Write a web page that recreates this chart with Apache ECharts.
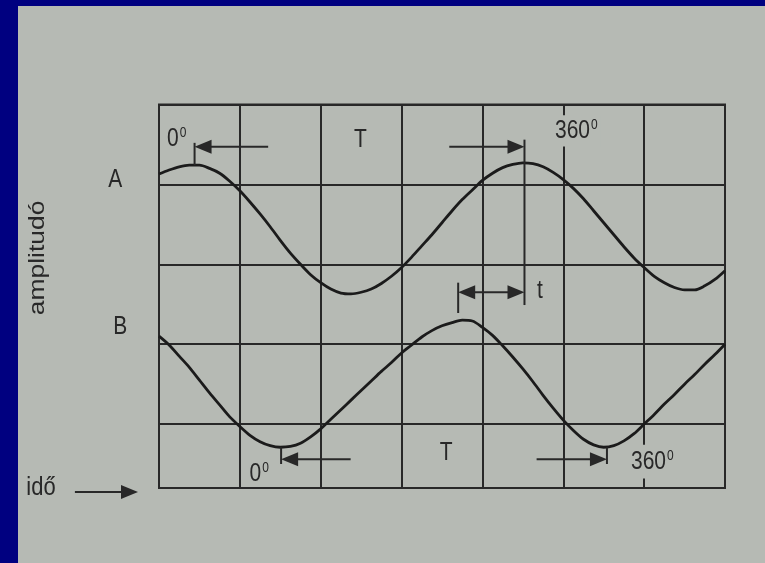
<!DOCTYPE html>
<html>
<head>
<meta charset="utf-8">
<script src="https://cdn.jsdelivr.net/npm/echarts@6/dist/echarts.min.js"></script>
<style>
  html, body { margin: 0; padding: 0; width: 765px; height: 563px; overflow: hidden; background: #000080; }
  #chart { position: absolute; left: 18px; top: 6px; width: 747px; height: 557px; }
</style>
</head>
<body>
<div id="chart"></div>
<script>
// Time positions (grid divisions), shared by both traces
const timeAxis = [
  0, 0.125, 0.25, 0.375, 0.5, 0.625, 0.75, 0.875,
  1, 1.125, 1.25, 1.375, 1.5, 1.625, 1.75, 1.875,
  2, 2.125, 2.25, 2.375, 2.5, 2.625, 2.75, 2.875,
  3, 3.125, 3.25, 3.375, 3.5, 3.625, 3.75, 3.875,
  4, 4.125, 4.25, 4.375, 4.5, 4.625, 4.75, 4.875,
  5, 5.125, 5.25, 5.375, 5.5, 5.625, 5.75, 5.875,
  6, 6.125, 6.25, 6.375, 6.5, 6.625, 6.75, 6.875,
  7
];
// Amplitudes in grid divisions, measured downward from the top edge of the screen
const ampA = [
  0.87, 0.82, 0.78, 0.76, 0.76, 0.80, 0.86, 0.96,
  1.08, 1.22, 1.37, 1.53, 1.70, 1.86, 2.00, 2.13,
  2.23, 2.31, 2.36, 2.37, 2.35, 2.31, 2.24, 2.15,
  2.04, 1.91, 1.77, 1.63, 1.48, 1.33, 1.19, 1.07,
  0.95, 0.86, 0.79, 0.75, 0.73, 0.74, 0.78, 0.85,
  0.94, 1.05, 1.18, 1.33, 1.48, 1.63, 1.78, 1.92,
  2.04, 2.15, 2.23, 2.29, 2.32, 2.32, 2.27, 2.19,
  2.08
];
const ampB = [
  2.90, 3.01, 3.15, 3.29, 3.45, 3.61, 3.76, 3.91,
  4.03, 4.14, 4.22, 4.27, 4.29, 4.28, 4.24, 4.16,
  4.06, 3.94, 3.82, 3.70, 3.58, 3.46, 3.34, 3.23,
  3.11, 3.01, 2.91, 2.83, 2.77, 2.73, 2.70, 2.71,
  2.79, 2.89, 3.02, 3.16, 3.31, 3.47, 3.64, 3.80,
  3.95, 4.08, 4.19, 4.26, 4.29, 4.27, 4.21, 4.12,
  4.00, 3.88, 3.75, 3.63, 3.50, 3.38, 3.25, 3.13,
  3.00
];

// Phase markers: peaks of A, peak and troughs of B
const peakA1 = [0.44, 0.76];
const peakA2 = [4.52, 0.73];
const peakB  = [3.70, 2.70];
const troughB1 = [1.51, 4.29];
const troughB2 = [5.54, 4.29];

const labelDeg0 = '0';
const labelDeg360 = '360';
const labelPeriod = 'T';
const labelShift = 't';
const labelA = 'A';
const labelB = 'B';
const yName = 'amplitudó';
const xName = 'idő';

const ink = '#282828';
const paper = '#b6bab4';
const fontFamily = '"Liberation Sans", Arial, Helvetica, sans-serif';

const zip = (xs, ys) => xs.map((x, i) => [x, ys[i]]);

const chart = echarts.init(document.getElementById('chart'), null, { renderer: 'canvas' });

chart.setOption({
  animation: false,
  backgroundColor: paper,
  grid: {
    left: 141, right: 40, top: 98.5, bottom: 75,
    show: true, borderColor: ink, borderWidth: 2, backgroundColor: 'transparent'
  },
  xAxis: {
    type: 'value', min: 0, max: 7, interval: 1,
    axisLabel: { show: false }, axisTick: { show: false }, axisLine: { show: false },
    splitLine: { show: true, lineStyle: { color: ink, width: 2 } }
  },
  yAxis: {
    type: 'value', inverse: true, min: 0, max: 4.8, interval: 1,
    axisLabel: { show: false }, axisTick: { show: false }, axisLine: { show: false },
    splitLine: { show: true, lineStyle: { color: ink, width: 2 } }
  },
  series: [
    { name: 'A', type: 'line', data: zip(timeAxis, ampA), smooth: 0.3, showSymbol: false,
      lineStyle: { color: '#1b1b1b', width: 2.8 }, z: 3 },
    { name: 'B', type: 'line', data: zip(timeAxis, ampB), smooth: 0.3, showSymbol: false,
      lineStyle: { color: '#1b1b1b', width: 2.8 }, z: 3 }
  ]
});

const px = (x, y) => chart.convertToPixel({ gridIndex: 0 }, [x, y]);
const g = [];

function seg(a, b, w) {
  const p = px(a[0], a[1]), q = px(b[0], b[1]);
  g.push({ type: 'line', z: 20, shape: { x1: p[0], y1: p[1], x2: q[0], y2: q[1] },
           style: { stroke: ink, lineWidth: w || 2 } });
}
function head(tip, dirX) {
  // filled triangular arrowhead pointing along dirX (+1 right, -1 left)
  const p = px(tip[0], tip[1]);
  const L = 17, W = 7;
  g.push({ type: 'polygon', z: 21,
           shape: { points: [[p[0], p[1]], [p[0] - dirX * L, p[1] - W], [p[0] - dirX * L, p[1] + W]] },
           style: { fill: ink } });
}
function arrow(tail, tip) {
  const dir = tip[0] > tail[0] ? 1 : -1;
  seg(tail, [tip[0] - dir * 0.12, tip[1]], 2);
  head(tip, dir);
}
function txt(pos, text, opts) {
  const p = px(pos[0], pos[1]);
  const o = opts || {};
  g.push({
    type: 'text', z: 30, x: p[0], y: p[1],
    scaleX: o.scaleX || 1, scaleY: o.scaleY || 1.2, rotation: o.rotation || 0,
    style: Object.assign({
      text: text, fill: ink, font: (o.size || 21) + 'px ' + fontFamily,
      align: o.align || 'center', verticalAlign: 'middle'
    }, o.style || {})
  });
}
function deg(pos, base, opts) {
  const o = opts || {};
  txt(pos, '{n|' + base + '}{s|0}', {
    align: o.align || 'left',
    style: Object.assign({
      rich: {
        n: { fontSize: 21, fontFamily: fontFamily, fill: ink, lineHeight: 22 },
        s: { fontSize: 12, fontFamily: fontFamily, fill: ink, verticalAlign: 'top', lineHeight: 22, padding: [0, 0, 0, 1] }
      }
    }, o.style || {})
  });
}

// Signal A: period from 0° (first peak) to 360° (second peak)
seg([peakA1[0], 0.48], peakA1, 2);
arrow([1.35, 0.53], [peakA1[0], 0.53]);
deg([0.10, 0.43], labelDeg0);
txt([2.49, 0.44], labelPeriod);
arrow([3.59, 0.53], [peakA2[0], 0.53]);
seg([peakA2[0], 0.44], [peakA2[0], 2.51], 2);
deg([4.86, 0.33], labelDeg360, { style: { backgroundColor: paper, padding: [2, 3] } });

// Time shift t between the peaks of A and B
seg([peakB[0], 2.23], [peakB[0], 2.61], 2);
seg([peakB[0] + 0.12, 2.35], [peakA2[0] - 0.12, 2.35], 2);
head([peakB[0], 2.35], -1);
head([peakA2[0], 2.35], 1);
txt([4.71, 2.33], labelShift);

// Signal B: period from 0° (first trough) to 360° (second trough)
seg(troughB1, [troughB1[0], 4.50], 2);
arrow([2.37, 4.44], [troughB1[0], 4.44]);
deg([1.12, 4.62], labelDeg0);
txt([3.55, 4.36], labelPeriod);
seg(troughB2, [troughB2[0], 4.50], 2);
arrow([4.67, 4.44], [troughB2[0], 4.44]);
deg([5.80, 4.47], labelDeg360, { style: { backgroundColor: paper, padding: [3, 3] } });

// Trace names and axis captions
txt([-0.54, 0.94], labelA);
txt([-0.48, 2.78], labelB);
txt([-1.50, 1.92], yName, { size: 22, rotation: Math.PI / 2, scaleX: 1.2, scaleY: 1 });
txt([-1.46, 4.80], xName, { size: 22, scaleY: 1.15 });
arrow([-1.04, 4.85], [-0.26, 4.85]);

chart.setOption({ graphic: { elements: g } });
</script>
</body>
</html>
